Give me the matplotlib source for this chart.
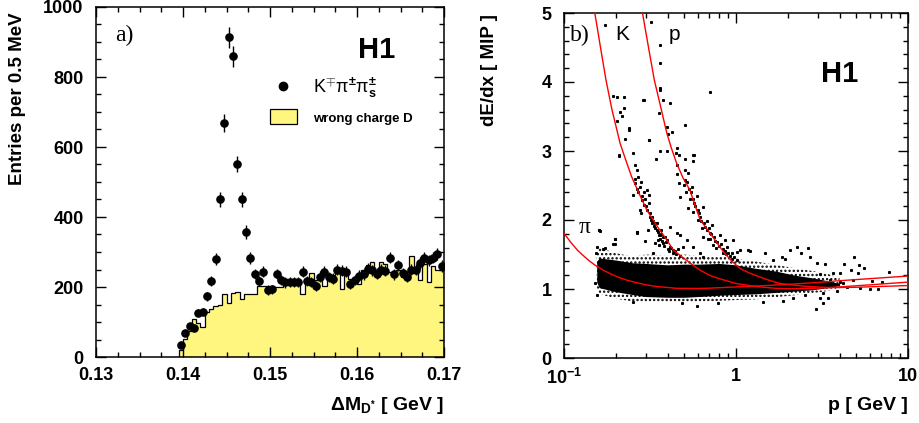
import numpy as np
import matplotlib
matplotlib.use("Agg")
import matplotlib.pyplot as plt
from matplotlib.lines import Line2D
from matplotlib.patches import Patch
from matplotlib.ticker import MultipleLocator, FixedLocator, FixedFormatter, LogLocator, NullFormatter

plt.rcParams['font.family'] = ['Liberation Sans', 'DejaVu Sans']
plt.rcParams['font.weight'] = 'bold'
plt.rcParams['mathtext.fontset'] = 'custom'
plt.rcParams['mathtext.rm'] = 'Liberation Sans'
plt.rcParams['mathtext.bf'] = 'Liberation Sans:bold'
plt.rcParams['mathtext.it'] = 'Liberation Sans:italic'
plt.rcParams['hatch.linewidth'] = 1.1

# =========================
# PANEL a) DATA
# =========================
bin_lo = 0.1395
bin_w = 0.0005
data_counts = [34, 70, 88, 83, 127, 130, 173, 218, 280, 451,
               668, 914, 859, 552, 450, 357, 283, 237, 217, 244,
               191, 193, 237, 220, 213, 215, 215, 215, 243, 218,
               214, 202, 230, 244, 228, 224, 249, 246, 244, 208,
               220, 232, 236, 252, 248, 238, 250, 246, 284, 236,
               262, 240, 230, 250, 250, 268, 282, 276, 284, 295,
               260]
wrong_counts = [20, 51, 75, 110, 98, 85, 128, 138, 145, 148,
                181, 153, 183, 186, 167, 179, 179, 179, 202, 202,
                202, 200, 200, 200, 205, 208, 210, 210, 180, 225,
                241, 220, 220, 203, 234, 234, 248, 193, 248, 222,
                220, 210, 248, 263, 272, 248, 272, 267, 244, 239,
                248, 229, 244, 289, 248, 220, 267, 214, 260, 248,
                250]

# =========================
# PANEL b) DATA
# =========================
pi_p = [0.10, 0.11, 0.12, 0.13, 0.14, 0.151, 0.17, 0.19, 0.21, 0.231, 0.26, 0.30, 0.35, 0.452, 0.60,
        0.70, 0.883, 1.2, 1.5, 2.16, 3.0, 4.0, 6.0, 10.0]
pi_v = [1.807, 1.67, 1.56, 1.48, 1.41, 1.348, 1.27, 1.21, 1.165, 1.13, 1.095, 1.06, 1.035, 1.01, 1.008,
        1.012, 1.024, 1.038, 1.05, 1.072, 1.095, 1.12, 1.15, 1.188]

k_p = [0.151, 0.157, 0.163, 0.1754, 0.19, 0.212, 0.23, 0.247, 0.275, 0.303, 0.35, 0.396, 0.432, 0.5,
       0.56, 0.616, 0.7, 0.8, 0.92, 1.0, 1.2, 1.45, 1.7, 2.1, 2.5, 3.2, 4.0, 6.0, 10.0]
k_v = [5.0, 4.75, 4.5, 4.03, 3.6, 3.11, 2.85, 2.63, 2.37, 2.145, 1.9, 1.71, 1.565, 1.44,
       1.35, 1.275, 1.2, 1.15, 1.106, 1.08, 1.05, 1.025, 1.01, 1.005, 1.005, 1.015, 1.03, 1.06, 1.10]

pr_p = [0.286, 0.31, 0.335, 0.36, 0.396, 0.42, 0.452, 0.49, 0.54, 0.58, 0.62, 0.72, 0.85, 0.95, 1.05,
        1.2, 1.5, 1.8, 2.2, 2.5, 3.5, 5.0, 10.0]
pr_v = [5.0, 4.5, 4.03, 3.7, 3.26, 3.05, 2.82, 2.62, 2.43, 2.2, 2.0, 1.78, 1.53, 1.40, 1.30,
        1.23, 1.14, 1.08, 1.055, 1.04, 1.02, 1.025, 1.05]

# main band of tracks (dense core and speckled rim)
band_p = [0.155, 0.16, 0.2, 0.25, 0.3, 0.4, 0.5, 0.6, 0.8, 1.0, 1.3, 1.7, 2.2, 2.8, 3.4, 4.0]
rim_hi = [1.52, 1.60, 1.52, 1.47, 1.50, 1.48, 1.50, 1.48, 1.48, 1.44, 1.40, 1.35, 1.30, 1.26, 1.22, 1.16]
rim_lo = [1.03, 0.93, 0.86, 0.82, 0.80, 0.80, 0.80, 0.81, 0.83, 0.84, 0.85, 0.88, 0.91, 0.94, 0.97, 1.01]
core_hi = [1.40, 1.45, 1.42, 1.38, 1.37, 1.35, 1.36, 1.36, 1.37, 1.35, 1.30, 1.26, 1.20, 1.16, 1.12, 1.08]
core_lo = [1.10, 1.02, 0.96, 0.92, 0.89, 0.88, 0.88, 0.89, 0.91, 0.92, 0.93, 0.95, 0.97, 0.99, 1.02, 1.05]

# single tracks away from the core
dots = [
    (0.1936, 3.80), (0.2024, 3.78), (0.2243, 3.78), (0.2116, 3.57), (0.2233, 3.63), (0.2184, 3.50),
    (0.2024, 3.44), (0.2377, 3.34), (0.2393, 3.30), (0.2274, 3.18), (0.2098, 2.93), (0.2529, 2.97),
    (0.2587, 2.80), (0.2646, 2.72), (0.2705, 2.63), (0.2587, 2.53), (0.2766, 2.48), (0.2529, 2.36),
    (0.3024, 2.44), (0.3116, 2.36), (0.2829, 2.29), (0.2916, 2.22), (0.2766, 2.14), (0.3163, 2.05),
    (0.2800, 2.10), (0.3235, 1.95), (0.3093, 1.86), (0.338, 1.88), (0.3616, 1.78), (0.3497, 1.71),
    (0.3866, 1.76), (0.378, 1.66), (0.4134, 1.61), (0.338, 1.66), (0.2646, 1.82), (0.3106, 3.16),
    (0.289, 3.74), (0.1598, 1.86), (0.198, 1.72), (0.1915, 1.65), (0.1724, 1.59),
    (0.26, 2.60), (0.265, 2.45), (0.27, 2.40), (0.28, 2.55), (0.285, 2.35), (0.29, 2.40),
    (0.295, 2.30), (0.30, 2.20), (0.305, 2.15), (0.31, 2.25), (0.315, 2.10), (0.32, 2.00),
    (0.325, 2.05), (0.33, 1.98), (0.335, 1.92), (0.34, 1.95), (0.345, 1.85), (0.35, 1.82),
    (0.355, 1.78), (0.36, 1.72), (0.365, 1.80), (0.37, 1.70), (0.375, 1.75), (0.38, 1.62),
    (0.39, 1.68), (0.40, 1.58), (0.41, 1.55), (0.42, 1.60), (0.43, 1.52), (0.44, 1.55),
    (0.45, 1.50), (0.46, 1.58), (0.47, 1.48),
    (0.3616, 3.91), (0.378, 3.74), (0.4134, 3.70), (0.3584, 3.55), (0.3953, 3.35), (0.4227, 3.28),
    (0.3998, 3.24), (0.5053, 3.38), (0.7063, 3.85), (0.3616, 3.00), (0.3953, 3.00), (0.4558, 3.04),
    (0.3426, 2.88), (0.4465, 2.97), (0.4677, 2.94), (0.5053, 2.88), (0.5598, 2.94), (0.5633, 2.85),
    (0.4532, 2.80), (0.5053, 2.72), (0.4558, 2.67), (0.527, 2.68), (0.5053, 2.58), (0.4677, 2.53),
    (0.5526, 2.48), (0.5153, 2.40), (0.4713, 2.34), (0.5418, 2.31), (0.5907, 2.35), (0.527, 2.17),
    (0.5633, 2.11), (0.6457, 2.19), (0.6026, 2.00), (0.6329, 1.88), (0.6752, 1.98), (0.7219, 1.93),
    (0.7063, 1.81), (0.8078, 1.78), (0.8647, 1.71), (0.6457, 1.76), (0.8827, 1.61), (0.9621, 1.71),
    (0.7377, 1.64), (0.9025, 1.52), (1.055, 1.57), (1.18, 1.57), (1.01, 1.42),
    (0.50, 2.50), (0.52, 2.55), (0.53, 2.45), (0.55, 2.40), (0.56, 2.30), (0.57, 2.25),
    (0.58, 2.20), (0.60, 2.15), (0.61, 2.10), (0.62, 2.05), (0.63, 1.98), (0.65, 1.95),
    (0.66, 1.90), (0.68, 1.85), (0.70, 1.88), (0.72, 1.80), (0.74, 1.75), (0.76, 1.70),
    (0.78, 1.68), (0.80, 1.62), (0.82, 1.65), (0.84, 1.58), (0.86, 1.55), (0.88, 1.50),
    (0.92, 1.48), (0.95, 1.52), (0.98, 1.47), (0.77, 1.60), (0.69, 1.72),
    (0.173, 4.82), (0.319, 4.87), (0.3615, 4.54), (0.3615, 4.27), (0.3615, 3.89), (0.293, 3.74),
    (0.312, 3.16), (0.21, 2.94), (0.57, 2.94), (0.265, 1.82), (0.198, 1.73), (0.16, 1.855),
    (2.25, 1.61), (2.38, 1.52), (2.63, 1.59), (1.20, 1.556), (1.84, 1.47), (1.93, 1.44),
    (2.69, 1.47), (2.94, 1.37), (3.30, 1.36), (4.25, 1.36), (4.88, 1.46), (5.21, 1.35),
    (5.55, 1.30), (4.65, 1.275), (4.03, 1.23), (5.14, 1.23), (7.76, 1.24), (6.15, 1.115),
    (7.03, 1.10), (6.01, 1.0), (6.73, 1.0), (5.26, 1.01), (4.40, 1.03), (4.21, 1.08),
    (3.85, 0.976), (3.22, 0.937), (2.92, 0.705), (3.08, 0.865), (3.44, 0.874), (3.22, 0.80),
    (1.88, 0.826), (1.44, 0.816), (2.15, 0.865), (2.52, 0.913), (3.08, 1.213), (3.68, 1.23),
    (3.52, 1.13), (4.03, 1.106), (4.81, 1.13), (1.47, 1.52), (2.06, 1.565), (1.65, 1.42),
    (0.198, 1.652), (0.2646, 1.807), (0.162, 1.845), (0.2958, 1.70), (0.3307, 1.517), (0.4725, 1.78),
    (0.5166, 1.71), (0.4939, 1.61), (0.5649, 1.61), (0.6175, 1.52), (0.6402, 1.46), (0.844, 1.52),
    (0.944, 1.44), (1.009, 1.54), (0.706, 1.73), (0.4519, 1.807), (0.413, 1.90), (0.346, 1.95),
    (0.3656, 1.855), (0.395, 1.71), (0.358, 1.64), (0.432, 1.565), (0.483, 0.79), (0.59, 0.754),
    (0.789, 0.79), (0.253, 0.816), (0.155, 0.913), (0.152, 1.08), (0.154, 1.517), (0.156, 1.61),
    (0.169, 1.575),
]
dots_p = [d[0] for d in dots]
dots_v = [d[1] for d in dots]

YELLOW = '#fff680'

fig = plt.figure(figsize=(9.19, 4.23), dpi=100)

# =========================
# PANEL a)
# =========================
ax1 = fig.add_axes([96 / 919, 1 - 357 / 423, 348 / 919, 350 / 423])

edges = bin_lo + bin_w * np.arange(len(wrong_counts) + 1)
centers = edges[:-1] + bin_w / 2

ax1.stairs(wrong_counts, edges, fill=True, facecolor=YELLOW, edgecolor='none', zorder=1)
ax1.stairs(wrong_counts, edges, baseline=0, color='black', linewidth=0.9, zorder=2)
ax1.errorbar(centers, data_counts, yerr=np.sqrt(data_counts), fmt='o', color='black',
             markersize=5.2, elinewidth=1.0, capsize=0, zorder=3)

ax1.set_xlim(0.13, 0.17)
ax1.set_ylim(0, 1000)
ax1.xaxis.set_minor_locator(MultipleLocator(0.0025))
ax1.yaxis.set_major_locator(MultipleLocator(200))
ax1.yaxis.set_minor_locator(MultipleLocator(50))
ax1.set_xticks([0.13, 0.14, 0.15, 0.16, 0.17])
ax1.set_xticklabels(['0.13', '0.14', '0.15', '0.16', '0.17'])

leg = ax1.legend(handles=[Line2D([], [], marker='o', color='black', ls='none', markersize=6),
                          Patch(facecolor=YELLOW, edgecolor='black', linewidth=0.9)],
                 labels=['K$^{\\mp}$\u03c0$^{\\pm}$\u03c0$_{\\mathbf{s}}^{\\pm}$', 'wrong charge D'],
                 loc='upper left', bbox_to_anchor=(0.50, 0.805), frameon=False,
                 handlelength=1.6, handleheight=1.0, handletextpad=1.0,
                 labelspacing=0.55, borderpad=0, borderaxespad=0, prop={'size': 12})
t1, t2 = leg.get_texts()
t1.set_fontweight('normal')
t1.set_fontsize(13)
t2.set_fontsize(9.5)

ax1.text(0.055, 0.92, 'a)', transform=ax1.transAxes, ha='left', va='center',
         family='Liberation Serif', fontweight='normal', fontsize=17)
ax1.text(0.805, 0.877, 'H1', transform=ax1.transAxes, ha='center', va='center',
         fontsize=21, fontweight='bold')

# =========================
# PANEL b)
# =========================
ax2 = fig.add_axes([564 / 919, 1 - 358 / 423, 344 / 919, 345 / 423])
ax2.set_xscale('log')

ax2.fill_between(band_p, rim_lo, rim_hi, facecolor='none', edgecolor='black',
                 hatch='....', linewidth=0, zorder=1)
ax2.fill_between(band_p, core_lo, core_hi, color='black', linewidth=0, zorder=2)
ax2.plot(dots_p, dots_v, ls='none', marker='s', markersize=1.2, color='black', zorder=2)

ax2.plot(pi_p, pi_v, color='red', linewidth=1.0, zorder=3)
ax2.plot(k_p, k_v, color='red', linewidth=1.0, zorder=3)
ax2.plot(pr_p, pr_v, color='red', linewidth=1.0, zorder=3)

ax2.set_xlim(0.1, 10)
ax2.set_ylim(0, 5)
ax2.xaxis.set_major_locator(FixedLocator([0.1, 1, 10]))
ax2.xaxis.set_major_formatter(FixedFormatter([r'$\mathbf{10^{-1}}$', '1', '10']))
ax2.xaxis.set_minor_locator(LogLocator(base=10, subs=np.arange(2, 10)))
ax2.xaxis.set_minor_formatter(NullFormatter())
ax2.yaxis.set_major_locator(MultipleLocator(1))
ax2.yaxis.set_minor_locator(MultipleLocator(0.2))

ax2.text(0.017, 0.936, 'b)', transform=ax2.transAxes, ha='left', va='center',
         family='Liberation Serif', fontweight='normal', fontsize=17)
ax2.text(0.169, 0.922, 'K', transform=ax2.transAxes, ha='center', va='baseline',
         fontweight='normal', fontsize=15)
ax2.text(0.32, 0.922, 'p', transform=ax2.transAxes, ha='center', va='baseline',
         fontweight='normal', fontsize=15)
ax2.text(0.061, 0.362, '\u03c0', transform=ax2.transAxes, ha='center', va='baseline',
         family='Liberation Serif', fontweight='normal', fontsize=17)
ax2.text(0.802, 0.823, 'H1', transform=ax2.transAxes, ha='center', va='center',
         fontsize=21, fontweight='bold')

for ax in (ax1, ax2):
    ax.tick_params(which='both', direction='in', top=True, right=True, width=1.0,
                   labelsize=13)
    ax.tick_params(which='major', length=7)
    ax.tick_params(which='minor', length=3.5)
    ax.tick_params(axis='x', which='both', pad=7)
    ax.tick_params(axis='y', which='both', pad=9)
    for s in ax.spines.values():
        s.set_linewidth(1.1)
    for lab in ax.get_xticklabels() + ax.get_yticklabels():
        lab.set_fontweight('bold')

# axis titles
fig.text(18 / 919, 1 - 12 / 423, 'Entries per 0.5 MeV', rotation=90, ha='center', va='top',
         fontsize=13.5, fontweight='bold')
fig.text(444 / 919, 1 - 405 / 423, r'$\Delta$M$_{\mathbf{D^{*}}}$ [ GeV ]', ha='right', va='center',
         fontsize=14, fontweight='bold')
fig.text(490 / 919, 1 - 14 / 423, 'dE/dx [ MIP ]', rotation=90, ha='center', va='top',
         fontsize=13.5, fontweight='bold')
fig.text(908 / 919, 1 - 405 / 423, 'p [ GeV ]', ha='right', va='center',
         fontsize=14, fontweight='bold')

fig.savefig('out.png', dpi=100)
